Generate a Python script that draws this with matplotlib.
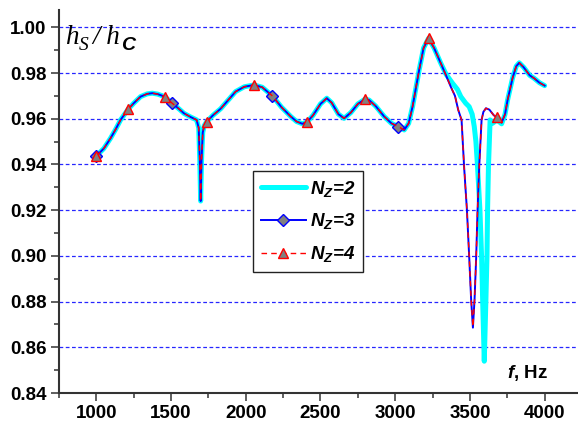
"""Ratio h_S / h_C versus frequency for N_Z = 2, 3, 4."""
import matplotlib
matplotlib.use("Agg")
import matplotlib.pyplot as plt
import matplotlib.ticker as ticker

# N_Z=3 and N_Z=4 share the same frequency grid
freq = [1000, 1050, 1095, 1130, 1162, 1213, 1250, 1296, 1340, 1374, 1410,
        1457, 1504, 1550, 1586, 1630, 1671, 1685, 1692, 1698, 1704, 1712,
        1722, 1738, 1780, 1832, 1880, 1932, 1990, 2055, 2110, 2178, 2240,
        2301, 2340, 2379, 2412, 2450, 2500, 2542, 2575, 2620, 2658, 2703,
        2750, 2796, 2825, 2870, 2926, 2975, 3019, 3060, 3090, 3116, 3140,
        3160, 3190, 3223, 3260, 3305, 3340, 3372, 3400, 3422, 3444, 3461,
        3480, 3495, 3508, 3520, 3531, 3542, 3551, 3562, 3578, 3590, 3607,
        3630, 3660, 3681, 3712, 3735, 3752, 3786, 3810, 3830, 3860, 3900,
        3930, 3965, 4000]
nz3 = [0.9437, 0.9470, 0.9515, 0.9555, 0.9595, 0.9642, 0.9668, 0.9697,
       0.9709, 0.9712, 0.9708, 0.9697, 0.9670, 0.9645, 0.9624, 0.9608,
       0.9595, 0.9560, 0.9420, 0.9240, 0.9420, 0.9540, 0.9570, 0.9587,
       0.9615, 0.9644, 0.9680, 0.9719, 0.9740, 0.9748, 0.9738, 0.9700,
       0.9650, 0.9610, 0.9588, 0.9578, 0.9587, 0.9615, 0.9665, 0.9690,
       0.9670, 0.9620, 0.9602, 0.9627, 0.9665, 0.9685, 0.9682, 0.9655,
       0.9610, 0.9580, 0.9566, 0.9551, 0.9580, 0.9653, 0.9740, 0.9813,
       0.9910, 0.9952, 0.9910, 0.9843, 0.9790, 0.9740, 0.9700, 0.9638,
       0.9595, 0.9390, 0.9200, 0.8997, 0.8810, 0.8686, 0.8810, 0.8997,
       0.9200, 0.9390, 0.9595, 0.9630, 0.9646, 0.9640, 0.9615, 0.9607,
       0.9583, 0.9620, 0.9682, 0.9780, 0.9830, 0.9845, 0.9825, 0.9790,
       0.9777, 0.9758, 0.9745]
nz4 = [0.9437, 0.9470, 0.9515, 0.9555, 0.9595, 0.9642, 0.9668, 0.9697,
       0.9709, 0.9712, 0.9708, 0.9697, 0.9670, 0.9645, 0.9624, 0.9608,
       0.9595, 0.9560, 0.9420, 0.9240, 0.9420, 0.9540, 0.9570, 0.9587,
       0.9615, 0.9644, 0.9680, 0.9719, 0.9740, 0.9748, 0.9738, 0.9700,
       0.9650, 0.9610, 0.9588, 0.9578, 0.9587, 0.9615, 0.9665, 0.9690,
       0.9670, 0.9620, 0.9602, 0.9627, 0.9665, 0.9685, 0.9682, 0.9655,
       0.9610, 0.9580, 0.9566, 0.9551, 0.9580, 0.9653, 0.9740, 0.9813,
       0.9910, 0.9952, 0.9910, 0.9843, 0.9790, 0.9740, 0.9700, 0.9638,
       0.9595, 0.9390, 0.9200, 0.8997, 0.8810, 0.8690, 0.8810, 0.8997,
       0.9200, 0.9390, 0.9595, 0.9630, 0.9646, 0.9640, 0.9615, 0.9607,
       0.9583, 0.9620, 0.9682, 0.9780, 0.9830, 0.9845, 0.9825, 0.9790,
       0.9777, 0.9758, 0.9745]

# N_Z=2 has its own grid around the second dip
freq2 = [1000, 1050, 1095, 1130, 1162, 1213, 1250, 1296, 1340, 1374, 1410,
         1457, 1504, 1550, 1586, 1630, 1671, 1685, 1692, 1698, 1704, 1712,
         1722, 1738, 1780, 1832, 1880, 1932, 1990, 2055, 2110, 2178, 2240,
         2301, 2340, 2379, 2412, 2450, 2500, 2542, 2575, 2620, 2658, 2703,
         2750, 2796, 2825, 2870, 2926, 2975, 3019, 3060, 3090, 3116, 3140,
         3160, 3190, 3223, 3260, 3305, 3340, 3384, 3416, 3439, 3472, 3495,
         3515, 3529, 3540, 3551, 3567, 3578, 3585, 3596, 3607, 3614, 3618,
         3624, 3635, 3651, 3681, 3712, 3735, 3752, 3786, 3810, 3830, 3860,
         3900, 3930, 3965, 4000]
nz2 = [0.9437, 0.9470, 0.9515, 0.9555, 0.9595, 0.9642, 0.9668, 0.9697,
       0.9709, 0.9712, 0.9708, 0.9697, 0.9670, 0.9645, 0.9624, 0.9608,
       0.9595, 0.9560, 0.9420, 0.9240, 0.9420, 0.9540, 0.9570, 0.9587,
       0.9615, 0.9644, 0.9680, 0.9719, 0.9740, 0.9748, 0.9738, 0.9700,
       0.9650, 0.9610, 0.9588, 0.9578, 0.9587, 0.9615, 0.9665, 0.9690,
       0.9670, 0.9620, 0.9602, 0.9627, 0.9665, 0.9685, 0.9682, 0.9655,
       0.9610, 0.9580, 0.9566, 0.9551, 0.9580, 0.9653, 0.9740, 0.9813,
       0.9910, 0.9952, 0.9910, 0.9843, 0.9795, 0.9755, 0.9729, 0.9697,
       0.9668, 0.9653, 0.9620, 0.9566, 0.9500, 0.9390, 0.9200, 0.8997,
       0.8810, 0.8539, 0.8810, 0.8997, 0.9200, 0.9390, 0.9595, 0.9580,
       0.9595, 0.9578, 0.9620, 0.9682, 0.9780, 0.9830, 0.9845, 0.9825,
       0.9790, 0.9777, 0.9758, 0.9745]

# frequencies where the symbols sit
DIAMOND_F = [1000, 1504, 2178, 3019]
TRIANGLE_F = [1000, 1213, 1457, 1738, 2055, 2412, 2796, 3223, 3681]

plt.rcParams["font.family"] = ["Liberation Sans", "DejaVu Sans"]
plt.rcParams["mathtext.fontset"] = "custom"
plt.rcParams["mathtext.bf"] = "Liberation Sans:bold:italic"


def main():
    fig = plt.figure(figsize=(5.78, 4.25), dpi=100)
    ax = fig.add_axes([59 / 578, 32 / 425, 523 / 578, 383 / 425])

    ax.plot(freq2, nz2, color="#00ffff", lw=3.6, solid_capstyle="round",
            label=r"$\mathbf{N_Z}$=2", zorder=3)
    ax.plot(freq, nz3, color="#0000ff", lw=1.4, marker="D", markersize=6,
            markerfacecolor="#808080", markeredgecolor="#0000ff",
            markeredgewidth=1.0,
            markevery=[freq.index(f) for f in DIAMOND_F],
            label=r"$\mathbf{N_Z}$=3", zorder=4)
    ax.plot(freq, nz4, color="#ff0000", lw=1.0, linestyle=(0, (4, 3)),
            marker="^", markersize=7.5, markerfacecolor="#808080",
            markeredgecolor="#ff0000", markeredgewidth=1.0,
            markevery=[freq.index(f) for f in TRIANGLE_F],
            label=r"$\mathbf{N_Z}$=4", zorder=5)

    ax.set_xlim(750, 4250)
    ax.set_ylim(0.84, 1.0076)
    ax.xaxis.set_major_locator(ticker.MultipleLocator(500))
    ax.xaxis.set_minor_locator(ticker.MultipleLocator(250))
    ax.yaxis.set_major_locator(ticker.MultipleLocator(0.02))
    ax.yaxis.set_minor_locator(ticker.MultipleLocator(0.01))
    ax.yaxis.set_major_formatter(ticker.FormatStrFormatter("%.2f"))

    for y in [0.86, 0.88, 0.90, 0.92, 0.94, 0.96, 0.98, 1.00]:
        ax.axhline(y, color="#0000ff", lw=0.9, linestyle=(0, (3, 2)),
                   alpha=0.85, zorder=1)

    for side in ["top", "right"]:
        ax.spines[side].set_visible(False)
    for side in ["left", "bottom"]:
        ax.spines[side].set_linewidth(1.5)
        ax.spines[side].set_color("#333333")

    ax.tick_params(which="major", direction="out", length=6, width=1.1,
                   color="#333333", labelsize=13.5, pad=3)
    ax.tick_params(which="minor", direction="out", length=3.5, width=1.1,
                   color="#333333")
    for lab in ax.get_xticklabels() + ax.get_yticklabels():
        lab.set_fontweight("bold")

    # quantity label h_S / h_C, built from chained text pieces
    serif = dict(family="Liberation Serif", style="italic")
    h1 = ax.text(0.011, 0.962, "h", transform=ax.transAxes, fontsize=19.5,
                 ha="left", va="top", **serif)
    sub_s = ax.annotate("S", xy=(1, 0), xycoords=h1, xytext=(0.5, -0.5),
                        textcoords="offset points", fontsize=14,
                        ha="left", va="baseline", **serif)
    slash = ax.annotate("/ h", xy=(1, 0), xycoords=(sub_s, h1),
                        xytext=(2.5, 0), textcoords="offset points",
                        fontsize=19.5, ha="left", va="bottom", **serif)
    ax.annotate("C", xy=(1, 0), xycoords=slash, xytext=(0.5, -0.5),
                textcoords="offset points", fontsize=14, fontweight="bold",
                fontstyle="italic", ha="left", va="baseline")

    ax.text(0.935, 0.025, r"$\mathbf{f}$, Hz", transform=ax.transAxes,
            fontsize=13.5, fontweight="bold", ha="right", va="bottom")

    leg = ax.legend(loc="center", bbox_to_anchor=(0.476, 0.448),
                    borderaxespad=0,
                    prop={"size": 13.5, "weight": "bold", "style": "italic"},
                    handlelength=2.4, handletextpad=0.2, labelspacing=0.68,
                    borderpad=0.4, fancybox=False, framealpha=1,
                    edgecolor="#222222")
    leg.get_frame().set_linewidth(1.0)
    leg.set_zorder(10)

    fig.savefig("out.png", dpi=100)


if __name__ == "__main__":
    main()
